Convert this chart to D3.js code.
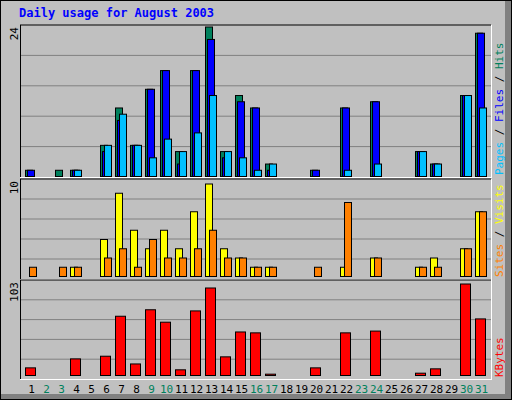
<!DOCTYPE html>
<html><head><meta charset="utf-8">
<script src="https://cdn.jsdelivr.net/npm/d3@7"></script>
<style>body{margin:0;background:#fff}svg{display:block}</style>
</head><body>
<div id="graf"></div>
<script>
// datos
dias   = d3.range(1, 32)
finde  = [2,3,9,10,16,17,23,24,30,31]
hits   = [1,0,1,1,0,5,11,5,14,17,4,17,24,4,13,11,2,0,0,1,0,11,0,12,0,0,4,2,0,13,23]
files  = [1,0,0,1,0,4,9,5,14,17,2,17,22,3,12,11,1,0,0,1,0,11,0,12,0,0,4,2,0,13,23]
pages  = [0,0,0,1,0,5,10,5,3,6,4,7,13,4,3,1,2,0,0,0,0,1,0,2,0,0,4,2,0,13,11]
visits = [0,0,0,1,0,4,9,5,3,5,3,7,10,3,2,1,1,0,0,0,0,1,0,2,0,0,1,2,0,3,7]
sites  = [1,0,1,1,0,2,3,1,4,2,2,3,5,2,2,1,1,0,0,1,0,8,0,2,0,0,1,1,0,3,7]
kbytes = [8.6,0,0,18.7,0,21.7,66.7,13,74,60,6.4,72.7,98.5,21,49,48,1.5,0,0,8.6,0,48,0,50,0,0,2.6,7.5,0,103,63.7]

VERDE = '#00805c', AZUL = '#0000ff', CIAN = '#00c0ff'
AMARILLO = '#ffff00', NARANJA = '#ff8000', ROJO = '#ff0000'

svg = d3.select('#graf').append('svg').attr('width', 512).attr('height', 400)
  .style('font-family', '"DejaVu Sans Mono", monospace')

svg.append('rect').attr('width', 512).attr('height', 400).attr('fill', '#c0c0c0')
svg.append('rect').attr('x', 505).attr('y', 0).attr('width', 7).attr('height', 400).attr('fill', '#808080')
svg.append('rect').attr('x', 0).attr('y', 394).attr('width', 512).attr('height', 6).attr('fill', '#808080')
svg.append('rect').attr('x', 0.5).attr('y', 0.5).attr('width', 511).attr('height', 399)
  .attr('fill', 'none').attr('stroke', '#000')

svg.append('text').attr('x', 19).attr('y', 17).attr('fill', AZUL)
  .attr('font-weight', 'bold').attr('font-size', 12).text('Daily usage for August 2003')

fx = d3.scaleBand().domain(dias).range([21, 21 + 15 * 31])

paneles = [
  {y0: 25, y1: 177, base: 176.5, tope: 27, max: 24,
   series: [[hits, VERDE, 4, 8], [files, AZUL, 6, 8], [pages, CIAN, 8, 8]],
   etiqueta: [['Pages', CIAN], [' / ', '#000'], ['Files', AZUL], [' / ', '#000'], ['Hits', VERDE]]},
  {y0: 179, y1: 279, base: 276.5, tope: 184, max: 10,
   series: [[visits, AMARILLO, 4, 8], [sites, NARANJA, 8, 8]],
   etiqueta: [['Sites', NARANJA], [' / ', '#000'], ['Visits', AMARILLO]]},
  {y0: 280, y1: 379, base: 375.5, tope: 284, max: 103,
   series: [[kbytes, ROJO, 4, 11]],
   etiqueta: [['KBytes', ROJO]]}
]

paneles.forEach(p => {
  g = svg.append('g')
  fy = d3.scaleLinear().domain([0, p.max]).range([p.base, p.tope])
  paso = (p.y1 - p.y0) / 5
  d3.range(1, 5).forEach(i => {
    g.append('line').attr('x1', 21).attr('x2', 491)
      .attr('y1', p.y0 + paso * i).attr('y2', p.y0 + paso * i)
      .attr('stroke', '#808080').attr('stroke-width', 1)
  })
  g.append('line').attr('x1', 20).attr('x2', 491).attr('y1', p.y0).attr('y2', p.y0).attr('stroke', '#000')
  g.append('line').attr('x1', 20.5).attr('x2', 20.5).attr('y1', p.y0).attr('y2', p.y1).attr('stroke', '#000')
  g.append('line').attr('x1', 20).attr('x2', 492).attr('y1', p.y1 + 0.5).attr('y2', p.y1 + 0.5).attr('stroke', '#fff')
  g.append('line').attr('x1', 491.5).attr('x2', 491.5).attr('y1', p.y0).attr('y2', p.y1).attr('stroke', '#fff')

  p.series.forEach(([vals, color, off, w]) => {
    g.selectAll(null).data(vals.map((v, i) => [i + 1, v]).filter(d => d[1] > 0))
      .enter().append('rect')
      .attr('x', d => fx(d[0]) + off + 0.5)
      .attr('y', d => fy(d[1]))
      .attr('width', w - 1)
      .attr('height', d => Math.max(1, p.base - fy(d[1])))
      .attr('fill', color).attr('stroke', '#000').attr('stroke-width', 1)
  })

  g.append('text').attr('transform', `translate(18,${p.y0 + 2}) rotate(-90)`)
    .attr('text-anchor', 'end').attr('font-size', 11).text(p.max)

  t = g.append('text').attr('transform', `translate(503,${p.y1 - 2}) rotate(-90)`)
    .attr('font-size', 11)
  p.etiqueta.forEach(([s, c]) => t.append('tspan').attr('fill', c).text(s))
})

svg.selectAll('.dia').data(dias).enter().append('text')
  .attr('x', d => fx(d) + fx.bandwidth() / 2 + 3)
  .attr('y', 393).attr('text-anchor', 'middle').attr('font-size', 11)
  .attr('fill', d => finde.includes(d) ? VERDE : '#000')
  .text(d => d)
</script>
</body></html>
